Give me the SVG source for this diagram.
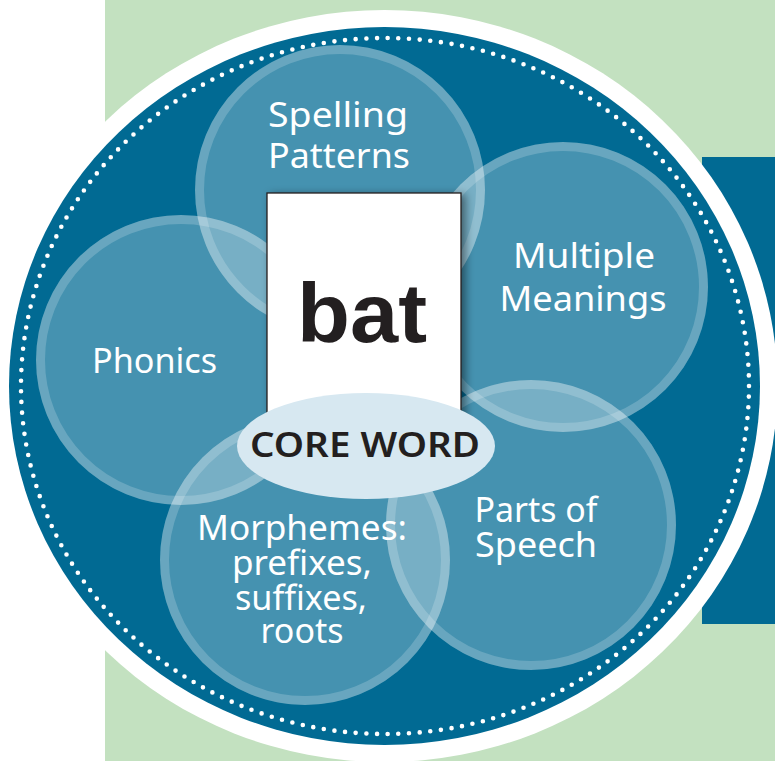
<svg xmlns="http://www.w3.org/2000/svg" width="775" height="761" viewBox="0 0 775 761">
  <style>
    .bub { fill: #ffffff; fill-opacity: 0.27; }
    .ring { fill: none; stroke: #ffffff; stroke-opacity: 0.19; stroke-width: 9; }
    .lbl { font-family: "Noto Sans", "Open Sans", sans-serif; font-size: 34px; fill: #ffffff; text-anchor: middle; }
  </style>
  <defs>
    <filter id="shadow" x="-20%" y="-20%" width="150%" height="150%">
      <feDropShadow dx="4" dy="2" stdDeviation="4" flood-color="#000000" flood-opacity="0.45"/>
    </filter>
  </defs>
  <rect x="0" y="0" width="775" height="761" fill="#ffffff"/>
  <rect x="105" y="0" width="670" height="761" fill="#c3e1c0"/>
  <rect x="702" y="157" width="73" height="467" fill="#016a93"/>
  <g id="frame">
    <ellipse cx="384.5" cy="386" rx="393" ry="376" fill="#ffffff"/>
    <ellipse cx="384.5" cy="386" rx="375.5" ry="359" fill="#016a93"/>
    <ellipse cx="385" cy="386" rx="364" ry="348" fill="none" stroke="#ffffff" stroke-width="4.6" stroke-linecap="round" stroke-dasharray="0 1" pathLength="209"/>
  </g>
  <g id="spelling">
    <circle class="bub" cx="340" cy="190" r="145"/>
    <circle class="ring" cx="340" cy="190" r="140.5"/>
    <text class="lbl" x="338" y="127" textLength="140" lengthAdjust="spacingAndGlyphs">Spelling</text>
    <text class="lbl" x="339" y="168" textLength="142" lengthAdjust="spacingAndGlyphs">Patterns</text>
  </g>
  <g id="multiple">
    <circle class="bub" cx="563" cy="287" r="145"/>
    <circle class="ring" cx="563" cy="287" r="140.5"/>
    <text class="lbl" x="584" y="268" textLength="142" lengthAdjust="spacingAndGlyphs">Multiple</text>
    <text class="lbl" x="583" y="311" textLength="167" lengthAdjust="spacingAndGlyphs">Meanings</text>
  </g>
  <g id="phonics">
    <circle class="bub" cx="181" cy="360" r="145"/>
    <circle class="ring" cx="181" cy="360" r="140.5"/>
    <text class="lbl" x="154.5" y="373" textLength="125" lengthAdjust="spacingAndGlyphs">Phonics</text>
  </g>
  <g id="morphemes">
    <circle class="bub" cx="305" cy="560" r="145"/>
    <circle class="ring" cx="305" cy="560" r="140.5"/>
    <text class="lbl" x="302" y="540" textLength="210" lengthAdjust="spacingAndGlyphs">Morphemes:</text>
    <text class="lbl" x="302" y="575" textLength="140" lengthAdjust="spacingAndGlyphs">prefixes,</text>
    <text class="lbl" x="301" y="610" textLength="132" lengthAdjust="spacingAndGlyphs">suffixes,</text>
    <text class="lbl" x="302" y="643" textLength="83" lengthAdjust="spacingAndGlyphs">roots</text>
  </g>
  <g id="parts">
    <circle class="bub" cx="531" cy="525" r="145"/>
    <circle class="ring" cx="531" cy="525" r="140.5"/>
    <text class="lbl" x="536" y="522" textLength="123" lengthAdjust="spacingAndGlyphs">Parts of</text>
    <text class="lbl" x="536" y="557" textLength="122" lengthAdjust="spacingAndGlyphs">Speech</text>
  </g>
  <g id="card">
    <rect x="267" y="193" width="194" height="235" fill="#ffffff" stroke="#231f20" stroke-width="1.3" filter="url(#shadow)"/>
    <text x="362" y="342" font-family="'Liberation Sans', Arial, sans-serif" font-weight="bold" font-size="83" fill="#231f20" text-anchor="middle" textLength="130" lengthAdjust="spacingAndGlyphs">bat</text>
  </g>
  <g id="core-word">
    <ellipse cx="366" cy="446" rx="129" ry="53" fill="#d7e8f1"/>
    <text x="365" y="457" font-family="'Noto Sans', 'Open Sans', sans-serif" font-weight="600" font-size="34" fill="#231f20" text-anchor="middle" textLength="230" lengthAdjust="spacingAndGlyphs">CORE WORD</text>
  </g>
  <g id="connectors"/>
</svg>
